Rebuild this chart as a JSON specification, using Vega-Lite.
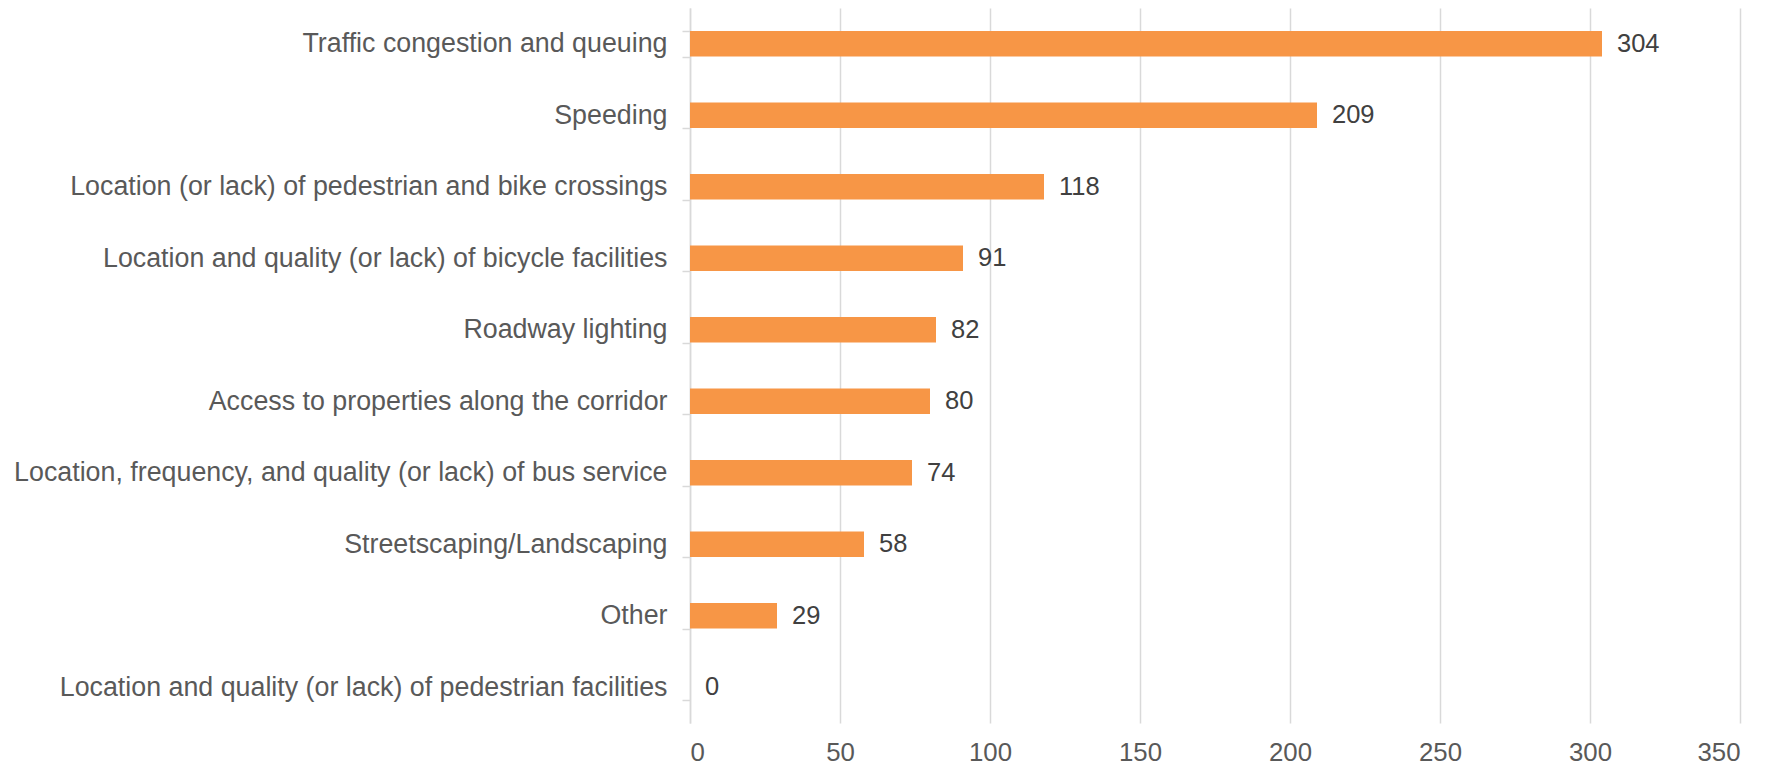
{
  "$schema": "https://vega.github.io/schema/vega-lite/v6.json",
  "width": 1050,
  "height": 715,
  "autosize": {"type": "none"},
  "padding": {"left": 690, "top": 8, "right": 31, "bottom": 45},
  "background": "white",
  "config": {"view": {"stroke": null}, "font": "Liberation Sans"},
  "data": {
    "values": [
      {"issue": "Traffic congestion and queuing", "count": 304},
      {"issue": "Speeding", "count": 209},
      {"issue": "Location (or lack) of pedestrian and bike crossings", "count": 118},
      {"issue": "Location and quality (or lack) of bicycle facilities", "count": 91},
      {"issue": "Roadway lighting", "count": 82},
      {"issue": "Access to properties along the corridor", "count": 80},
      {"issue": "Location, frequency, and quality (or lack) of bus service", "count": 74},
      {"issue": "Streetscaping/Landscaping", "count": 58},
      {"issue": "Other", "count": 29},
      {"issue": "Location and quality (or lack) of pedestrian facilities", "count": 0}
    ]
  },
  "encoding": {
    "y": {
      "field": "issue",
      "type": "nominal",
      "sort": null,
      "title": null,
      "scale": {"paddingInner": 0.64, "paddingOuter": 0.32},
      "axis": {
        "labelFont": "Liberation Sans",
        "labelFontSize": 26.8,
        "labelColor": "#595959",
        "labelPadding": 15,
        "labelLimit": 700,
        "tickBand": "extent",
        "tickSize": 8,
        "tickColor": "#d9d9d9",
        "tickWidth": 1.5,
        "domainColor": "#d9d9d9",
        "domainWidth": 1.5,
        "grid": false
      }
    },
    "x": {
      "field": "count",
      "type": "quantitative",
      "title": null,
      "scale": {"domain": [0, 350]},
      "axis": {
        "values": [0, 50, 100, 150, 200, 250, 300, 350],
        "labelFont": "Liberation Sans",
        "labelFontSize": 25.8,
        "labelColor": "#595959",
        "labelPadding": 17,
        "tickSize": 0,
        "domain": false,
        "grid": true,
        "gridColor": "#d9d9d9",
        "gridWidth": 1.5
      }
    }
  },
  "layer": [
    {"mark": {"type": "bar", "color": "#F79646"}},
    {
      "mark": {"type": "text", "align": "left", "dx": 15, "fontSize": 25.5, "color": "#404040", "font": "Liberation Sans"},
      "encoding": {"text": {"field": "count", "type": "quantitative"}}
    }
  ]
}
